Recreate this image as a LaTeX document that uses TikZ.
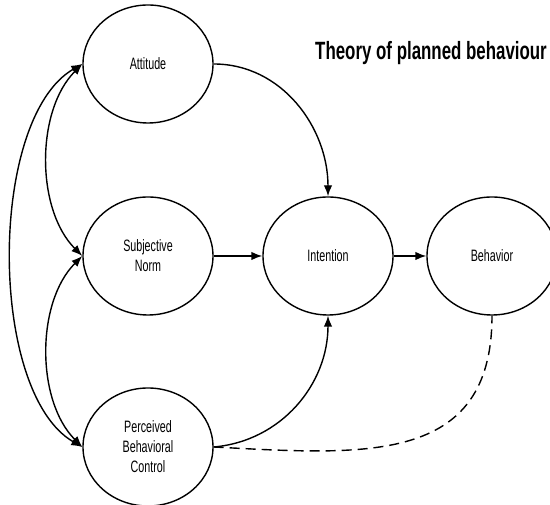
\documentclass[tikz,border=0pt]{standalone}
\usepackage{fontspec}
\newfontfamily\labelfont{Liberation Sans}[FakeStretch=0.65]
\newfontfamily\headfont{Liberation Sans}[FakeStretch=0.675]
\usetikzlibrary{arrows.meta}
\usetikzlibrary{shapes}
\tikzset{>={Latex[length=11pt,width=8.5pt]}}
\tikzstyle{line} = [draw, ->]
\tikzstyle{twoway} = [draw, <->]

\begin{document}
\begin{tikzpicture}[x=1pt,y=1pt,
        construct/.style={draw, ellipse, line width=1.4pt,
            minimum width=130pt, minimum height=118pt, inner sep=0pt,
            align=center, font=\labelfont\fontsize{16.5}{20}\selectfont},
        link/.style={line width=1.4pt},
        weak/.style={draw, line width=1.4pt, dash pattern=on 10pt off 6pt}]
        \useasboundingbox (0,0) rectangle (550,505);
        %% Vertices
        \node [construct] at (148,441) (A) {Attitude};
        \node [construct] at (148,249) (S) {Subjective\\Norm};
        \node [construct] at (148,58) (P) {Perceived\\Behavioral\\Control};
        \node [construct] at (328,249) (I) {Intention};
        \node [construct] at (492,249) (B) {Behavior};
        \node [anchor=base west, inner sep=0pt,
            font=\headfont\bfseries\fontsize{25}{30}\selectfont]
            at (315,445) (T) {Theory of planned behaviour};
        %% Arcs
        \path [line, link] (A) to[out=0, in=90] (I);
        \path [line, link] (S) to (I);
        \path [line, link] (I) to (B);
        \path [line, link] (P.east) to[out=5, in=-90] (I.south);
        \path [weak] (P.east) to[out=-3, in=-90, looseness=1.25] (B.south);
        %% Correlations
        \path [twoway, link] (A.west) to[out=210, in=150, looseness=0.73] (P.west);
        \path [twoway, link] (A.west) to[out=225, in=135, looseness=0.88] (S.west);
        \path [twoway, link] (S.west) to[out=225, in=135, looseness=0.88] (P.west);
    \end{tikzpicture}
\end{document}
